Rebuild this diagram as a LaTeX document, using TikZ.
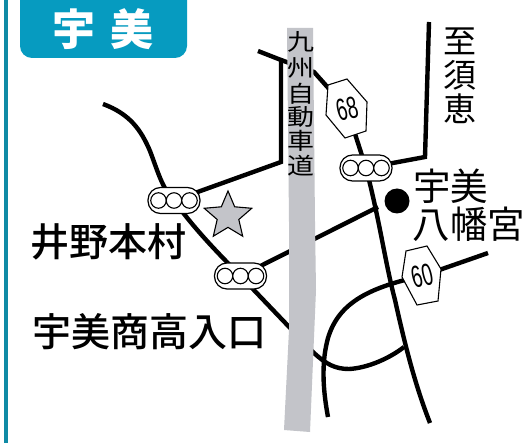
\documentclass[tikz,border=0pt]{standalone}
\usetikzlibrary{shapes.geometric}
\usepackage{fontspec}
\setmainfont{Liberation Sans}
\newfontfamily\cjk{Noto Sans CJK JP}
\newfontfamily\cjkb{Noto Sans CJK JP Medium}
\newfontfamily\cjkh{Noto Sans CJK JP Black}
\definecolor{barblue}{HTML}{0F8AA5}
\definecolor{tagblue}{HTML}{069BC0}
\definecolor{motorway}{HTML}{C3C4C9}
\tikzset{
  road/.style={draw=black,line width=4.4pt,line cap=butt,line join=miter},
  sig/.style={draw=black,line width=1.2pt,fill=white,rounded corners=12.5pt,minimum width=52pt,minimum height=26pt,inner sep=0pt},
  lamp/.style={draw=black,line width=1.1pt,fill=white,circle,minimum size=15.5pt,inner sep=0pt},
  sign/.style={draw=black,line width=1.1pt,fill=white,line join=miter},
  signnum/.style={font=\fontsize{31}{31}\selectfont,inner sep=0pt,rotate=14},
  vert/.style={font=\cjk\fontsize{27}{27}\selectfont,inner sep=0pt,yscale=.85},
  tall/.style={font=\cjk\fontsize{33}{33}\selectfont,inner sep=0pt},
  big/.style={font=\cjk\fontsize{37.5}{37.5}\selectfont,inner sep=0pt},
  place/.style={font=\cjkb\fontsize{39}{39}\selectfont,inner sep=0pt},
  tagtext/.style={font=\cjkh\fontsize{43}{43}\selectfont,text=white,inner sep=0pt},
}
\newcommand{\lamps}[1]{%
  \node[lamp] (#1a) at ([xshift=-15.5pt]#1) {};
  \node[lamp] (#1b) at (#1) {};
  \node[lamp] (#1c) at ([xshift=15.5pt]#1) {};
}
\begin{document}
\begin{tikzpicture}[x=1pt,y=-1pt]
\useasboundingbox (0,0) rectangle (532,443);
\fill[white] (0,0) rectangle (532,443);
\fill[barblue] (4,0) rectangle (7.5,443);
\fill[tagblue,rounded corners=12pt] (20,-14) rectangle (187,58);
\node[tagtext] (t1) at (74,29) {宇};
\node[tagtext] (t2) at (132,29) {美};

% anchors
\coordinate (s1) at (174,200.5);
\coordinate (s2) at (240.5,276);
\coordinate (s3) at (366,168);
\coordinate (h68) at (347,109);
\coordinate (h60) at (422,276);

% roads
\draw[road] (103,104) .. controls (130,114) and (141,130) .. (150,151)
  .. controls (158,172) and (162,188) .. (s1)
  .. controls (195,230) and (220,255) .. (s2)
  -- (314,353) .. controls (326,364) and (335,369) .. (349,369)
  .. controls (368,368) and (390,358) .. (404,347);
\draw[road] (s1) -- (281,162) -- (281,60) -- (258,51);
\draw[road] (281,60) -- (314,72) -- (h68);
\draw[road] (h68) -- (s3) .. controls (380,222) and (385,262) .. (395,300)
  .. controls (405,345) and (415,385) .. (430,423);
\draw[road] (s2) -- (378,207);
\draw[road] (s3) -- (425,157) -- (429,22);
\draw[road] (328,417) .. controls (322,385) and (322,360) .. (328,338)
  .. controls (338,305) and (365,288) .. (h60);
\draw[road] (h60) -- (488,253);

% motorway
\fill[motorway] (287,28) -- (313,28) -- (315,222) -- (316,290) -- (310,432)
  -- (284,430) -- (289,330) -- (289,222) -- cycle;
\foreach \c/\y in {九/42,州/68,自/94,動/117,車/141,道/166}
  \node[vert] (m\y) at (301,\y) {\c};

% signs
\draw[sign] (347,79) -- (367,102) -- (366,131) -- (345,138) -- (326,115) -- (328,85) -- cycle;
\node[signnum] (n68) at (h68) {\scalebox{.62}[1]{68}};
\draw[sign] (406,251) -- (427,246) -- (441,269) -- (438,301) -- (417,305) -- (402,277) -- cycle;
\node[signnum] (n60) at (h60) {\scalebox{.62}[1]{60}};

% signals
\node[sig] (b1) at (s1) {}; \lamps{s1}
\node[sig] (b2) at (s2) {}; \lamps{s2}
\node[sig] (b3) at (s3) {}; \lamps{s3}

% star
\node[star,star points=5,star point ratio=2.2,draw=black,line width=1.1pt,fill=motorway,minimum size=50pt,inner sep=0pt] (star) at (228,216) {};

% shrine
\fill[black] (397,201) circle (12.5);

% labels
\node[tall] (l1) at (460,41) {至};
\node[tall] (l2) at (460,75) {須};
\node[tall] (l3) at (460,109) {恵};
\node[big] (l4) at (450.5,186) {宇美};
\node[big] (l5) at (469,224) {八幡宮};
\node[place] (l6) at (108,242) {井野本村};
\node[place] (l7) at (149,332) {宇美商高入口};
\end{tikzpicture}
\end{document}
